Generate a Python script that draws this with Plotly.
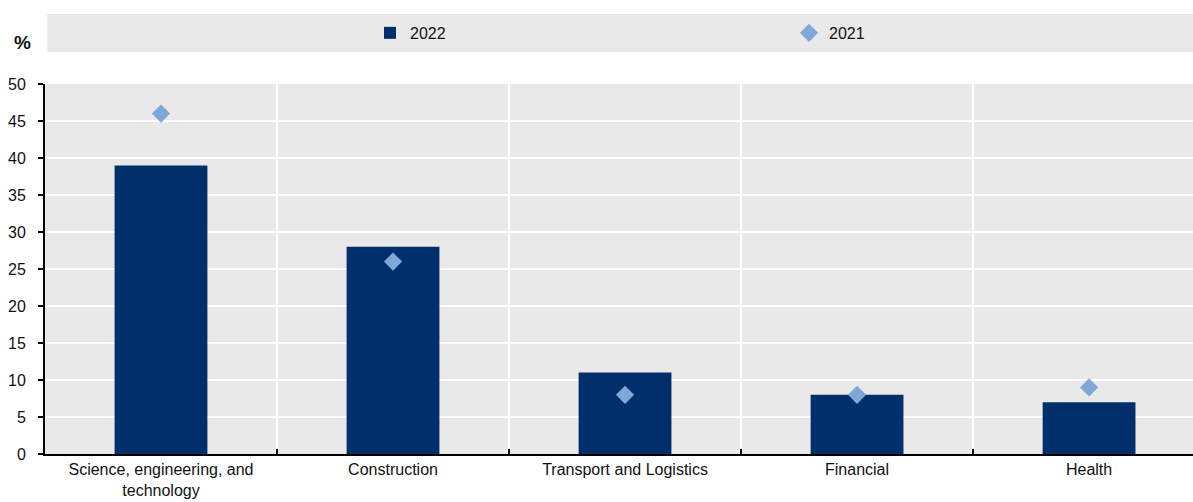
import plotly.graph_objects as go

categories = ["Science, engineering, and<br>technology", "Construction", "Transport and Logistics", "Financial", "Health"]
values_2022 = [39, 28, 11, 8, 7]
values_2021 = [46, 26, 8, 8, 9]
y_ticks = [0, 5, 10, 15, 20, 25, 30, 35, 40, 45, 50]

FONT = "Liberation Sans, Arial, sans-serif"
BG = "#e9e9e9"

fig = go.Figure()
fig.add_trace(go.Bar(x=categories, y=values_2022, name="2022", marker_color="#002f6c",
                     marker_line_width=0, width=0.4, legend="legend"))
fig.add_trace(go.Scatter(x=categories, y=values_2021, name="2021", mode="markers",
                         marker=dict(symbol="diamond", size=14, color="#7fa7d9"), legend="legend2"))

legend_common = dict(y=1.138, xanchor="left", yanchor="middle", bgcolor="rgba(0,0,0,0)",
                     font=dict(size=16, color="#111"))
fig.update_layout(
    width=1193, height=502,
    margin=dict(l=45, r=0, t=84, b=48, autoexpand=False),
    paper_bgcolor="white", plot_bgcolor=BG,
    font=dict(family=FONT, size=16, color="#111"),
    showlegend=True,
    legend=dict(x=0.2831, **legend_common),
    legend2=dict(x=0.6481, **legend_common),
    shapes=[dict(type="rect", xref="paper", yref="paper", x0=0.002, x1=1, y0=1.0865, y1=1.189,
                 fillcolor=BG, line_width=0, layer="below")],
    annotations=[dict(text="<b>%</b>", xref="paper", yref="paper", x=-0.02, y=1.113,
                      showarrow=False, font=dict(size=19, color="#111"), xanchor="center", yanchor="middle")],
)
fig.update_xaxes(type="category", range=[-0.5, 4.448], tickson="boundaries", ticks="inside",
                 ticklen=5, tickwidth=2, tickcolor="black", showgrid=True, gridcolor="white", gridwidth=2,
                 showline=True, linecolor="black", linewidth=2, tickfont=dict(size=16), automargin=False)
fig.update_yaxes(range=[0, 50], tickvals=y_ticks, ticks="outside", ticklen=5, tickwidth=2, tickcolor="black",
                 showgrid=True, gridcolor="white", gridwidth=2, showline=True, linecolor="black", linewidth=2,
                 zeroline=False, tickfont=dict(size=16), automargin=False, ticklabelstandoff=9)

fig.write_html("out.html", config={"displayModeBar": False},
               post_script="document.body.style.margin='0px';document.body.style.padding='0px';")
